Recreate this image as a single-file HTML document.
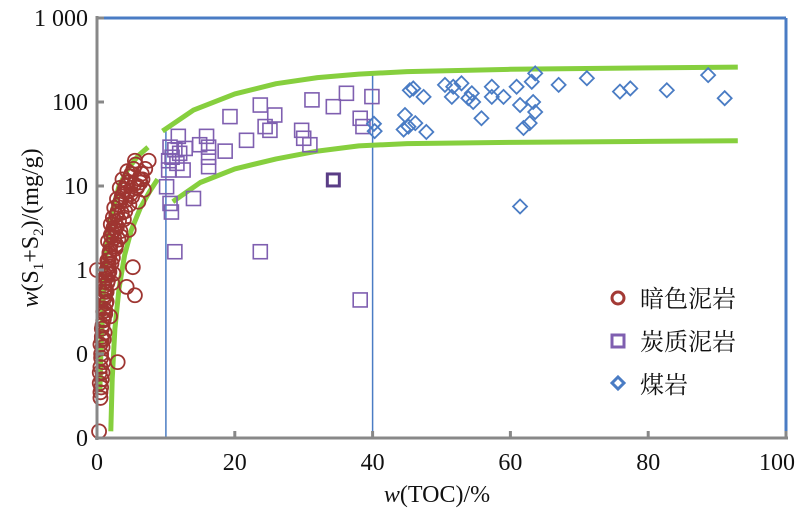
<!DOCTYPE html>
<html><head><meta charset="utf-8"><style>
body{margin:0;background:#fff;position:relative;width:800px;height:514px;overflow:hidden}
#chart{position:absolute;left:0;top:0}
svg text{font-family:"Liberation Serif","Noto Serif CJK SC",serif;fill:#111;}
</style></head><body>
<svg id="chart" width="800" height="514" viewBox="0 0 800 514" xmlns="http://www.w3.org/2000/svg">
<g id="frame"></g><g id="curves"></g><g id="marks"></g><g id="axes"></g><g id="legend"></g>
</svg>
<script>
const xTicks=[0,20,40,60,80,100];
const yTicks=[0.01,0.1,1,10,100,1000];
const yTickLabels=["0","0","1","10","100","1 000"];
const mudX=[0.3,0.5,0.6,0.7,0.8,0.9,0.6,0.8,1.0,1.1,0.7,0.9,1.2,1.0,1.3,1.1,1.4,1.2,1.5,1.3,1.6,1.4,1.7,1.5,1.8,1.9,2.0,1.6,2.1,2.2,2.4,2.0,2.6,2.3,2.8,3.0,2.5,3.2,3.4,2.9,3.6,3.8,4.0,3.3,4.2,4.5,3.7,4.8,5.0,4.4,5.3,5.6,4.9,5.9,6.2,5.5,6.5,7.0,7.5,6.0,3.0,5.2,5.5,4.3,0.0,2.2,1.8,2.7,4.6,6.8,3.5,1.0,0.4,0.5,1.9,2.4,
0.4,0.5,0.6,0.5,0.7,0.8,1.0,1.2,1.4,1.1,1.6,1.8,2.1,2.3,1.5,2.7,3.1,3.4,2.6,3.9,4.1,4.7,5.1,4.2,5.8,6.3,3.6,2.9,1.3,0.9,2.0,2.5,3.2,4.4,5.4,6.6,1.7,0.7,1.2,2.8];
const mudY=[0.012,0.035,0.04,0.05,0.06,0.08,0.1,0.12,0.15,0.18,0.2,0.25,0.3,0.35,0.4,0.5,0.55,0.6,0.7,0.8,0.9,1.0,1.1,1.3,1.5,1.7,2.0,2.2,2.5,2.8,3.2,3.5,3.8,4.2,4.5,5.0,5.5,6.0,6.5,7.0,7.5,8.0,9.0,9.5,10,11,12,13,14,15,16,18,8,10,12,20,14,16,20,6.5,0.08,1.08,0.5,0.63,1.0,0.7,1.6,1.9,3.0,9.0,2.5,0.45,0.06,0.03,0.28,0.9,
0.045,0.07,0.09,0.13,0.16,0.22,0.26,0.33,0.42,0.65,0.75,0.95,1.2,1.4,1.05,1.8,2.3,2.9,3.0,4.0,5.0,6.0,7.5,6.8,9.5,11,4.8,3.3,0.85,0.32,2.6,2.4,3.9,8.5,10.5,12,1.3,0.15,0.55,2.0];
const carbX=[11.8,11.3,10.6,12.0,10.4,11.6,12.5,10.4,10.1,10.6,10.8,14.0,11.3,15.9,16.2,14.9,16.2,16.2,18.6,19.3,21.7,23.7,24.4,25.8,25.1,29.7,30.9,30.0,31.2,34.3,36.2,39.9,38.2,38.6,23.7,38.2,10.9,12.8];
const carbY=[39,27,29,24.5,20,18.6,15.5,15.5,9.8,6.2,4.9,7.1,1.65,39,29,31,22,17,26,67,35,92,51,70,46,46,31,37,106,88,127,116,64,51,1.65,0.44,22,28];
const darkX=[34.3];
const darkY=[11.8];
const coalX=[45.4,45.9,47.4,44.7,44.5,45.2,46.2,47.8,50.5,51.5,51.7,52.9,53.9,54.4,54.6,55.8,57.3,57.3,59.0,60.9,61.4,61.9,62.8,63.1,63.3,63.6,63.6,67.0,71.1,75.9,77.4,82.7,88.7,91.1,61.4,40.3,40.2];
const coalY=[138,145,115,70,47,51,56,44,160,115,152,167,111,127,100,64,152,115,115,152,92,49,56,174,100,76,219,160,192,133,145,138,209,111,5.7,45,55];
const upLeftX=[0.4,0.6,0.9,1.4,2.2,3.2,4.5,6.0,7.4];
const upLeftY=[0.035,0.12,0.5,1.8,5,10,16,23,29];
const lowLeftX=[2.0,2.2,2.6,3.2,4.0,5.0,6.3,7.6,8.8];
const lowLeftY=[0.012,0.05,0.2,0.6,1.5,3.0,5.5,8.5,12];
const upRightX=[9.5,14,20,26,32,38,45,60,80,93];
const upRightY=[45,80,125,165,195,215,230,245,255,260];
const lowRightX=[11,15,20,26,32,38,45,60,80,93];
const lowRightY=[6.5,11,16,21,26,30,32,33,34,34.5];
const XL=97,XR=786,YT=18,YB=438;
const sx=v=>XL+(XR-XL)*v/100;
const sy=v=>YB-(YB-YT)*(Math.log10(v)+2)/5;
const NS="http://www.w3.org/2000/svg";
function mk(p,t,a){const e=document.createElementNS(NS,t);for(const k in a)e.setAttribute(k,a[k]);document.getElementById(p).appendChild(e);return e;}
let e=mk('frame','line',{x1:XL,y1:YT,x2:XR,y2:YT,stroke:'#4a7cc4','stroke-width':3});


e=mk('frame','line',{x1:XR,y1:YT,x2:XR,y2:YB,stroke:'#4a7cc4','stroke-width':3});


e=mk('frame','line',{x1:sx(10),y1:sy(45),x2:sx(10),y2:YB,stroke:'#4a7cc4','stroke-width':1.5});


e=mk('frame','line',{x1:sx(40),y1:sy(230),x2:sx(40),y2:YB,stroke:'#4a7cc4','stroke-width':1.5});


function curve(xs,ys,name){let d='';xs.forEach((x,i)=>{d+=(i?'L':'M')+sx(x).toFixed(1)+','+sy(ys[i]).toFixed(1);});
const c=mk('curves','path',{d:d,fill:'none',stroke:'#86cf3e','stroke-width':5,'stroke-linejoin':'round'});

}
curve(upLeftX,upLeftY,'upper-left-envelope');
curve(lowLeftX,lowLeftY,'lower-left-envelope');
curve(upRightX,upRightY,'upper-right-envelope');
curve(lowRightX,lowRightY,'lower-right-envelope');
mudX.forEach((x,i)=>{const c=mk('marks','circle',{cx:sx(x),cy:sy(mudY[i]),r:7,fill:'none',stroke:'#9e3531','stroke-width':1.8});

});
carbX.forEach((x,i)=>{const r=mk('marks','rect',{x:sx(x)-7,y:sy(carbY[i])-7,width:14,height:14,fill:'none',stroke:'#7f5fb0','stroke-width':1.6});

});
darkX.forEach((x,i)=>{const r=mk('marks','rect',{x:sx(x)-6,y:sy(darkY[i])-6,width:12,height:12,fill:'none',stroke:'#5a3d86','stroke-width':3});

});
coalX.forEach((x,i)=>{const cx=sx(x),cy=sy(coalY[i]);
const p=mk('marks','polygon',{points:`${cx},${cy-7} ${cx+7},${cy} ${cx},${cy+7} ${cx-7},${cy}`,fill:'none',stroke:'#4a7cc4','stroke-width':1.8});

});
e=mk('axes','line',{x1:XL,y1:YT-2,x2:XL,y2:YB+2,stroke:'#888','stroke-width':3});


e=mk('axes','line',{x1:XL-2,y1:YB,x2:XR+2,y2:YB,stroke:'#888','stroke-width':3});


yTicks.forEach((v,i)=>{const y=sy(v);
const t=mk('axes','line',{x1:XL,y1:y,x2:XL+7,y2:y,stroke:'#888','stroke-width':3});


const l=mk('axes','text',{x:XL-9,y:y+8,'text-anchor':'end','font-size':24});l.textContent=yTickLabels[i];

});
xTicks.forEach(v=>{const x=sx(v);
const t=mk('axes','line',{x1:x,y1:YB,x2:x,y2:YB-7,stroke:'#888','stroke-width':3});


const l=mk('axes','text',{x:Math.min(x,777),y:470,'text-anchor':'middle','font-size':24});l.textContent=String(v);

});
</script>
<svg style="position:absolute;left:0;top:0" width="800" height="514" xmlns="http://www.w3.org/2000/svg">
<text x="437" y="502" text-anchor="middle" font-size="24"><tspan font-style="italic">w</tspan>(TOC)/%</text>
<text transform="translate(38,228) rotate(-90)" text-anchor="middle" font-size="24"><tspan font-style="italic">w</tspan>(S<tspan font-size="15" dy="5">1</tspan><tspan dy="-5">+S</tspan><tspan font-size="15" dy="5">2</tspan><tspan dy="-5">)/(mg/g)</tspan></text>
<g>
<g><circle cx="618" cy="298" r="6" fill="none" stroke="#a33a35" stroke-width="3"/><text x="640" y="307" font-size="24">暗色泥岩</text></g>
<g><rect x="612" y="335" width="12" height="12" fill="none" stroke="#7f5fb0" stroke-width="3"/><text x="640" y="350" font-size="24">炭质泥岩</text></g>
<g><polygon points="618,377 624,383 618,389 612,383" fill="none" stroke="#4a7cc4" stroke-width="3"/><text x="640" y="393" font-size="24">煤岩</text></g>
</g>
</svg>
</body></html>
